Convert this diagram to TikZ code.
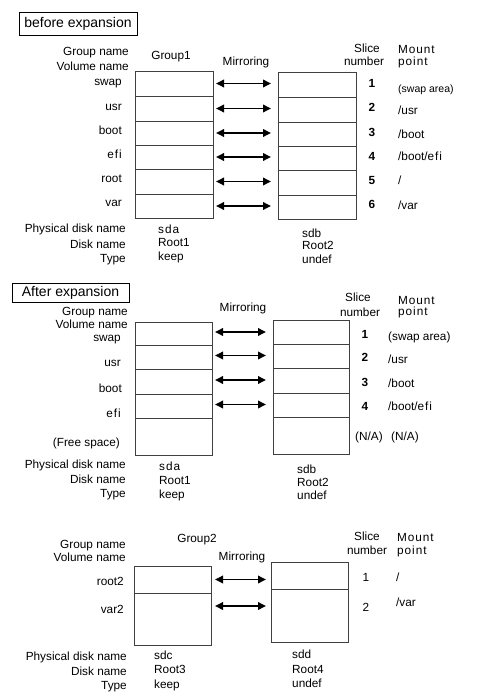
\documentclass[tikz,border=0pt]{standalone}
\usepackage{fontspec}
\setmainfont{Liberation Sans}
\usetikzlibrary{arrows.meta,fit}
\newcommand\spc[1]{{\addfontfeature{LetterSpace=8}#1}}
\begin{document}
\begin{tikzpicture}[x=1pt,y=-1pt,
  txt/.style={inner sep=0pt, font=\fontsize{11.8}{14}\selectfont, text height=8.5pt, text depth=2.5pt},
  lab/.style={txt, anchor=east},
  val/.style={txt, anchor=west},
  num/.style={txt, font=\fontsize{11.8}{14}\selectfont\bfseries},
  small/.style={val, font=\fontsize{10.5}{12}\selectfont},
  cell/.style={draw=black!75, line width=0.9pt, inner sep=0pt, outer sep=0pt},
  title/.style={draw=black, line width=0.8pt, inner sep=0pt, font=\fontsize{14}{16}\selectfont},
  mirror/.style={line width=1.8pt, {Triangle[length=8pt,width=7.5pt]}-{Triangle[length=8pt,width=7.5pt]}}]
\useasboundingbox (0,0) rectangle (476,700);

% ===================== before expansion =====================
\node[title, minimum width=118, minimum height=23] (t1) at (78,23.5) {before expansion};
\node[lab] (gn1) at (129,53) {Group name};
\node[lab] (vn1) at (129,68) {Volume name};
\node[txt] (g1) at (171,57) {Group1};
\node[txt] (mir1) at (246,63) {Mirroring};
\node[txt] (sl1) at (367,50) {Slice};
\node[txt] (sn1) at (364,63) {number};
\node[val] (mo1) at (398,51) {\spc{Mount}};
\node[val] (po1) at (398,63) {\spc{point}};

\node[cell, fit={(135,71) (213,96)}] (a1) {};
\node[cell, fit={(135,96) (213,121)}] (a2) {};
\node[cell, fit={(135,121) (213,145)}] (a3) {};
\node[cell, fit={(135,145) (213,169)}] (a4) {};
\node[cell, fit={(135,169) (213,194)}] (a5) {};
\node[cell, fit={(135,194) (213,218)}] (a6) {};
\node[cell, fit={(278,72) (356,97)}] (b1) {};
\node[cell, fit={(278,97) (356,122)}] (b2) {};
\node[cell, fit={(278,122) (356,146)}] (b3) {};
\node[cell, fit={(278,146) (356,170)}] (b4) {};
\node[cell, fit={(278,170) (356,195)}] (b5) {};
\node[cell, fit={(278,195) (356,219)}] (b6) {};
\foreach \i in {1,...,6}{
  \draw[mirror] ([xshift=3pt]a\i.east) -- ([xshift=-7pt]a\i.east -| b\i.west);
}

\node[lab] (v11) at (122,83) {swap};
\node[lab] (v12) at (122,108) {usr};
\node[lab] (v13) at (122,132) {boot};
\node[lab] (v14) at (122,156) {\spc{efi}};
\node[lab] (v15) at (122,180) {root};
\node[lab] (v16) at (122,204) {var};

\node[num] (n11) at (372,85) {1};
\node[num] (n12) at (372,109) {2};
\node[num] (n13) at (372,134) {3};
\node[num] (n14) at (372,158) {4};
\node[num] (n15) at (372,182) {5};
\node[num] (n16) at (372,206) {6};

\node[small] (m11) at (398,90) {(swap area)};
\node[val] (m12) at (398,112) {/usr};
\node[val] (m13) at (398,136) {/boot};
\node[val] (m14) at (398,158) {/boot/\spc{efi}};
\node[val] (m15) at (398,182) {/};
\node[val] (m16) at (398,207) {/var};

\node[lab] (pd1) at (126,230) {Physical disk name};
\node[lab] (dn1) at (126,245) {Disk name};
\node[lab] (ty1) at (126,259) {Type};
\node[val] (pa1) at (158,231) {\spc{sda}};
\node[val] (da1) at (158,244) {Root1};
\node[val] (ta1) at (158,257) {keep};
\node[val] (pb1) at (302,234) {sdb};
\node[val] (db1) at (302,247) {Root2};
\node[val] (tb1) at (302,260) {undef};

% ===================== After expansion =====================
\node[title, minimum width=117, minimum height=19] (t2) at (70.5,292.5) {After expansion};
\node[lab] (gn2) at (128,312) {Group name};
\node[lab] (vn2) at (128,325) {Volume name};
\node[txt] (mir2) at (243,308) {Mirroring};
\node[txt] (sl2) at (358,298) {Slice};
\node[txt] (sn2) at (360,313) {number};
\node[val] (mo2) at (398,301) {\spc{Mount}};
\node[val] (po2) at (398,312) {\spc{point}};

\node[cell, fit={(135,322) (212,345)}] (c1) {};
\node[cell, fit={(135,345) (212,369)}] (c2) {};
\node[cell, fit={(135,369) (212,394)}] (c3) {};
\node[cell, fit={(135,394) (212,418)}] (c4) {};
\node[cell, fit={(135,418) (212,455)}] (c5) {};
\node[cell, fit={(273,320) (349,344)}] (d1) {};
\node[cell, fit={(273,344) (349,368)}] (d2) {};
\node[cell, fit={(273,368) (349,393)}] (d3) {};
\node[cell, fit={(273,393) (349,417)}] (d4) {};
\node[cell, fit={(273,417) (349,454)}] (d5) {};
\foreach \i in {1,...,4}{
  \draw[mirror] ([xshift=3pt,yshift=1.5pt]c\i.east) -- ([xshift=-7pt,yshift=1.5pt]c\i.east -| d\i.west);
}

\node[lab] (v21) at (121,338) {swap};
\node[lab] (v22) at (121,363) {usr};
\node[lab] (v23) at (122,389) {boot};
\node[lab] (v24) at (121,414) {\spc{efi}};
\node[lab] (v25) at (120,443) {(Free space)};

\node[num] (n21) at (365,335) {1};
\node[num] (n22) at (365,358) {2};
\node[num] (n23) at (365,383) {3};
\node[num] (n24) at (365,407) {4};
\node[txt] (n25) at (369,437) {(N/A)};

\node[val] (m21) at (388,337) {(swap area)};
\node[val] (m22) at (388,360) {/usr};
\node[val] (m23) at (388,384) {/boot};
\node[val] (m24) at (388,407) {/boot/\spc{efi}};
\node[val] (m25) at (391,437) {(N/A)};

\node[lab] (pd2) at (126,465) {Physical disk name};
\node[lab] (dn2) at (126,480) {Disk name};
\node[lab] (ty2) at (126,494) {Type};
\node[val] (pa2) at (159,467) {\spc{sda}};
\node[val] (da2) at (159,481) {Root1};
\node[val] (ta2) at (159,495) {keep};
\node[val] (pb2) at (297,470) {sdb};
\node[val] (db2) at (297,483) {Root2};
\node[val] (tb2) at (297,496) {undef};

% ===================== Group2 =====================
\node[txt] (g2) at (197,539) {Group2};
\node[lab] (gn3) at (126,545) {Group name};
\node[lab] (vn3) at (126,558) {Volume name};
\node[txt] (mir3) at (242,557) {Mirroring};
\node[txt] (sl3) at (367,537) {Slice};
\node[txt] (sn3) at (367,551) {number};
\node[val] (mo3) at (397,538) {\spc{Mount}};
\node[val] (po3) at (397,551) {\spc{point}};

\node[cell, fit={(134,566) (211,593)}] (e1) {};
\node[cell, fit={(134,593) (211,645)}] (e2) {};
\node[cell, fit={(271,562) (348,589)}] (f1) {};
\node[cell, fit={(271,589) (348,642)}] (f2) {};
\draw[mirror] ([xshift=4pt]e1.east) -- ([xshift=-5pt]e1.east -| f1.west);
\draw[mirror] ([xshift=4pt,yshift=13pt]e2.east) -- ([xshift=-5pt,yshift=13pt]e2.east -| f2.west);

\node[lab] (v31) at (124,582) {root2};
\node[lab] (v32) at (124,610) {var2};
\node[txt] (n31) at (366,578) {1};
\node[txt] (n32) at (366,608) {2};
\node[val] (m31) at (396,578) {/};
\node[val] (m32) at (396,603) {/var};

\node[lab] (pd3) at (127,657) {Physical disk name};
\node[lab] (dn3) at (127,672) {Disk name};
\node[lab] (ty3) at (127,686) {Type};
\node[val] (pa3) at (154,656) {sdc};
\node[val] (da3) at (154,670) {Root3};
\node[val] (ta3) at (154,685) {keep};
\node[val] (pb3) at (292,655) {sdd};
\node[val] (db3) at (292,670) {Root4};
\node[val] (tb3) at (292,684) {undef};
\end{tikzpicture}
\end{document}
